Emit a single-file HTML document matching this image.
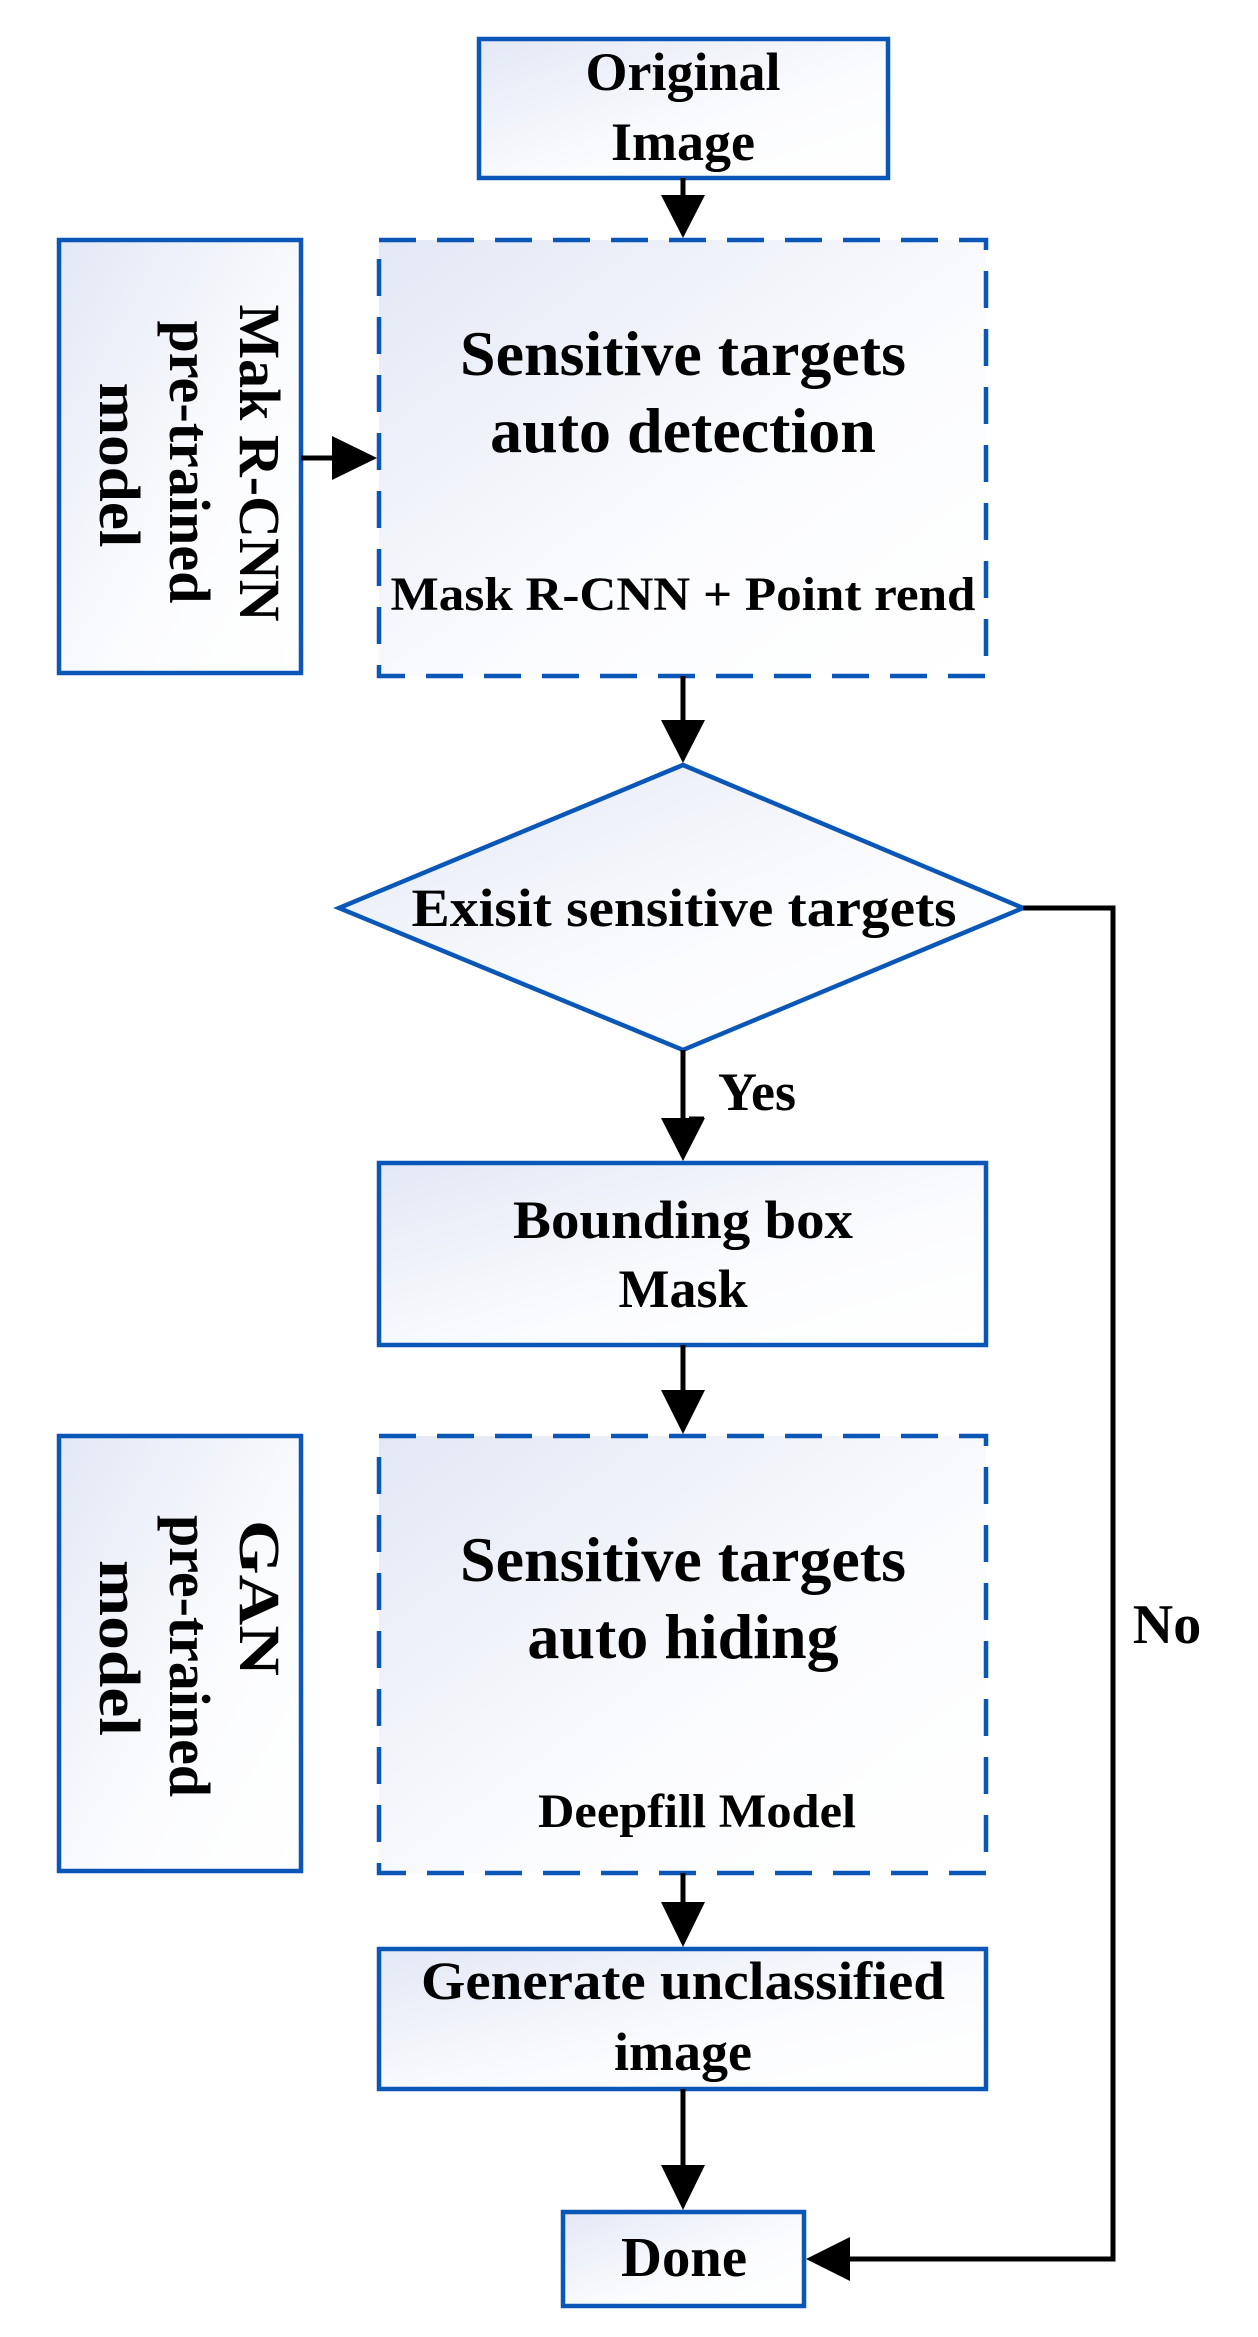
<!DOCTYPE html>
<html><head><meta charset="utf-8"><style>html,body{margin:0;padding:0;background:#fff}svg{display:block}</style></head>
<body>
<svg width="1258" height="2337" viewBox="0 0 1258 2337" xmlns="http://www.w3.org/2000/svg" font-family="'Liberation Serif', serif" font-weight="bold">
<defs>
<linearGradient id="g" x1="0" y1="0" x2="1" y2="1">
<stop offset="0" stop-color="#e4e8f5"/><stop offset="0.6" stop-color="#fbfcfe"/><stop offset="1" stop-color="#ffffff"/>
</linearGradient>
</defs>
<g stroke="#0a57b8" stroke-width="4.5" fill="url(#g)">
<rect x="479" y="39" width="409" height="139"/>
<rect x="59" y="240" width="242" height="433"/>
<rect x="379" y="240" width="607" height="436" stroke-dasharray="37 21"/>
<polygon points="683,765 1023,908 683,1050 339,908"/>
<rect x="379" y="1163" width="607" height="182"/>
<rect x="59" y="1436" width="242" height="435"/>
<rect x="379" y="1436" width="607" height="437" stroke-dasharray="37 21"/>
<rect x="379" y="1949" width="607" height="140"/>
<rect x="563" y="2212" width="241" height="94"/>
</g>
<g stroke="#000" stroke-width="5" fill="none">
<line x1="683" y1="178" x2="683" y2="200"/>
<line x1="301" y1="458" x2="335" y2="458"/>
<line x1="683" y1="676" x2="683" y2="725"/>
<line x1="683" y1="1050" x2="683" y2="1120"/>
<line x1="683" y1="1345" x2="683" y2="1395"/>
<line x1="683" y1="1873" x2="683" y2="1905"/>
<line x1="683" y1="2089" x2="683" y2="2170"/>
<polyline points="1023,908 1113,908 1113,2259 848,2259"/>
<line x1="689" y1="1118" x2="704" y2="1118" stroke-width="3"/>
</g>
<g fill="#000">
<polygon points="661,195 705,195 683,238"/>
<polygon points="332,436 332,480 377,458"/>
<polygon points="661,720 705,720 683,763"/>
<polygon points="661,1118 705,1118 683,1161"/>
<polygon points="661,1390 705,1390 683,1434"/>
<polygon points="661,1902 705,1902 683,1947"/>
<polygon points="661,2165 705,2165 683,2210"/>
<polygon points="850,2237 850,2281 806,2259"/>
</g>
<g fill="#000" text-anchor="middle">
<text x="683" y="90" font-size="54">Original</text>
<text x="683" y="160" font-size="54">Image</text>
<text x="683" y="375" font-size="64" textLength="446" lengthAdjust="spacingAndGlyphs">Sensitive targets</text>
<text x="683" y="452" font-size="64">auto detection</text>
<text x="683" y="610" font-size="48" textLength="585" lengthAdjust="spacingAndGlyphs">Mask R-CNN + Point rend</text>
<text x="684" y="926" font-size="54" textLength="545" lengthAdjust="spacingAndGlyphs">Exisit sensitive targets</text>
<text x="757" y="1110" font-size="54">Yes</text>
<text x="683" y="1238" font-size="54" textLength="340" lengthAdjust="spacingAndGlyphs">Bounding box</text>
<text x="683" y="1307" font-size="54">Mask</text>
<text x="683" y="1581" font-size="64" textLength="446" lengthAdjust="spacingAndGlyphs">Sensitive targets</text>
<text x="683" y="1658" font-size="64">auto hiding</text>
<text x="697" y="1827" font-size="48" textLength="318" lengthAdjust="spacingAndGlyphs">Deepfill Model</text>
<text x="683" y="1999" font-size="54" textLength="524" lengthAdjust="spacingAndGlyphs">Generate unclassified</text>
<text x="683" y="2070" font-size="54">image</text>
<text x="684" y="2276" font-size="56" textLength="126" lengthAdjust="spacingAndGlyphs">Done</text>
<text x="1167" y="1643" font-size="56">No</text>
<g font-size="58">
<text transform="translate(240,463) rotate(90)" textLength="317" lengthAdjust="spacingAndGlyphs">Mak R-CNN</text>
<text transform="translate(170,462) rotate(90)" textLength="283" lengthAdjust="spacingAndGlyphs">pre-trained</text>
<text transform="translate(100,465) rotate(90)" textLength="165" lengthAdjust="spacingAndGlyphs">model</text>
<text transform="translate(240,1598) rotate(90)" textLength="156" lengthAdjust="spacingAndGlyphs">GAN</text>
<text transform="translate(170,1656) rotate(90)" textLength="282" lengthAdjust="spacingAndGlyphs">pre-trained</text>
<text transform="translate(100,1648) rotate(90)" textLength="176" lengthAdjust="spacingAndGlyphs">model</text>
</g>
</g>
</svg>
</body></html>
